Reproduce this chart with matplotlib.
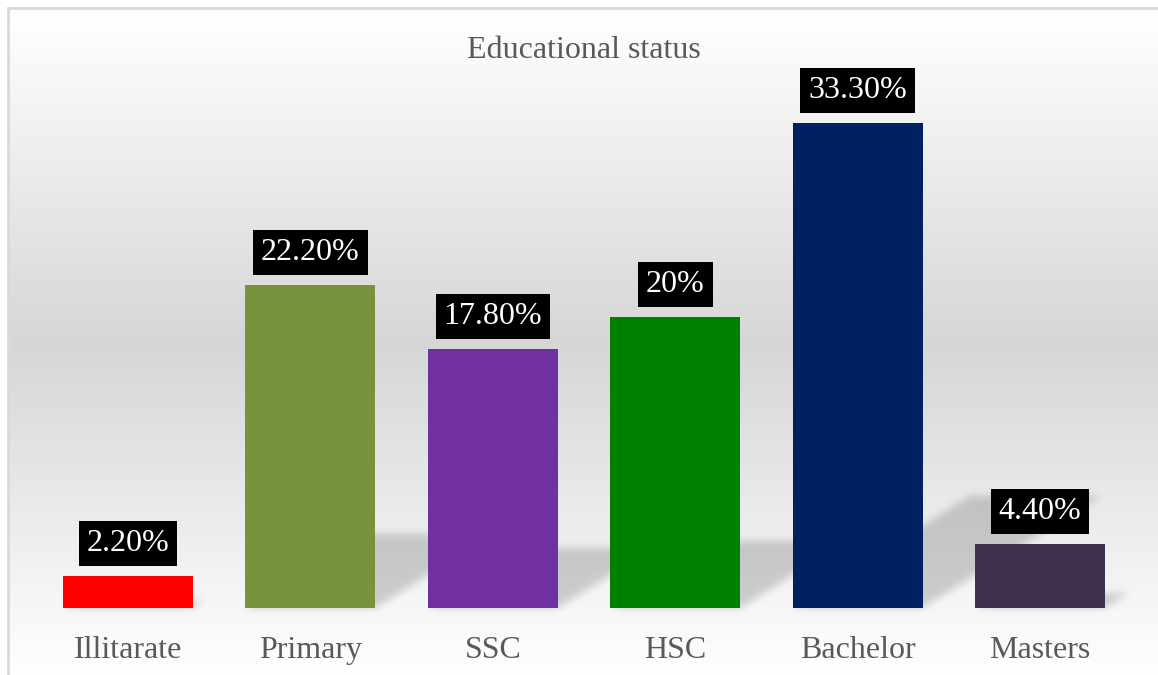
import numpy as np
import matplotlib
matplotlib.use("Agg")
import matplotlib.pyplot as plt
from matplotlib.patches import Rectangle

# Survey data
categories = ["Illitarate", "Primary", "SSC", "HSC", "Bachelor", "Masters"]
shares = [2.2, 22.2, 17.8, 20.0, 33.3, 4.4]
share_labels = ["2.20%", "22.20%", "17.80%", "20%", "33.30%", "4.40%"]
bar_colors = ["#FF0000", "#77933C", "#7030A0", "#008000", "#002060", "#403151"]

W, H, DPI = 1158, 675, 100
plt.rcParams["font.family"] = ["Liberation Serif", "DejaVu Serif"]
text_grey = "#595959"

fig = plt.figure(figsize=(W / DPI, H / DPI), dpi=DPI)
fig.patch.set_facecolor("white")

# Background layer in pixel coordinates (y measured from bottom)
bg = fig.add_axes([0, 0, 1, 1], zorder=0)
bg.axis("off")

# Vertical gradient: white -> grey -> white inside the chart frame
frame_top = H - 8
mid = H - 340
rows = np.arange(H) + 0.5
shade = np.where(
    rows >= mid,
    214 + (255 - 214) * (rows - mid) / (frame_top - mid),
    214 + (255 - 214) * (mid - rows) / (mid - 0),
)
shade = np.clip(shade, 0, 255) / 255.0
grad = np.repeat(shade[:, None], 8, axis=1)
grad_rgb = np.dstack([grad, grad, grad])
bg.imshow(grad_rgb, extent=[8, W + 40, 0, frame_top], origin="lower",
          aspect="auto", interpolation="bilinear", zorder=0)
bg.add_patch(Rectangle((8, -40), W + 80, frame_top + 40, fill=False,
                       edgecolor="#d9d9d9", linewidth=2.0, zorder=3))

# Main bar axes
ax = fig.add_axes([0.0318, 0.0993, 0.9451, 0.7549], zorder=2)
ax.patch.set_alpha(0)
x = np.arange(len(categories))
bar_width = 0.713
ax.bar(x, shares, width=bar_width, color=bar_colors, zorder=3)
ax.set_xlim(-0.5, len(categories) - 0.5)
ax.set_ylim(0, 35)
for side in ax.spines.values():
    side.set_visible(False)
ax.set_yticks([])
ax.set_xticks(x)
ax.set_xticklabels(categories, fontsize=23, color=text_grey)
ax.tick_params(axis="x", length=0, pad=20)

# Value labels in black boxes
for xi, v, lab in zip(x, shares, share_labels):
    ax.annotate(lab, xy=(xi, v), xytext=(0, 13), textcoords="offset points",
                ha="center", va="bottom", fontsize=23, color="white",
                bbox=dict(boxstyle="square,pad=0.25", fc="black", ec="none"),
                zorder=5)

fig.text(583.5 / W, 1 - 50 / H, "Educational status", ha="center",
         va="center", fontsize=23, color=text_grey)

# Perspective shadow behind each bar, built in pixel space and blurred
mask = np.zeros((H, W))
yy = np.arange(H)[:, None] + 0.5
xx = np.arange(W)[None, :] + 0.5
for xi, v in zip(x, shares):
    (x0, b), (x1, t) = ax.transData.transform(
        [(xi - bar_width / 2, 0), (xi + bar_width / 2, v)])
    h = t - b
    kh = 0.23 * h
    dx = 0.364 * h
    frac = (yy - b) / kh
    inside = (frac >= 0) & (frac <= 1) & (xx >= x0 + frac * dx) & (xx <= x1 + frac * dx)
    mask = np.maximum(mask, inside.astype(float))

sigma = 4.0
k = np.arange(-12, 13)
kern = np.exp(-0.5 * (k / sigma) ** 2)
kern /= kern.sum()
mask = np.apply_along_axis(lambda r: np.convolve(r, kern, mode="same"), 1, mask)
mask = np.apply_along_axis(lambda c: np.convolve(c, kern, mode="same"), 0, mask)
shadow = np.zeros((H, W, 4))
shadow[..., 3] = 0.17 * mask
bg.imshow(shadow, extent=[0, W, 0, H], origin="lower", aspect="auto",
          interpolation="bilinear", zorder=2)

bg.set_xlim(0, W)
bg.set_ylim(0, H)

fig.savefig("out.png", dpi=DPI)
